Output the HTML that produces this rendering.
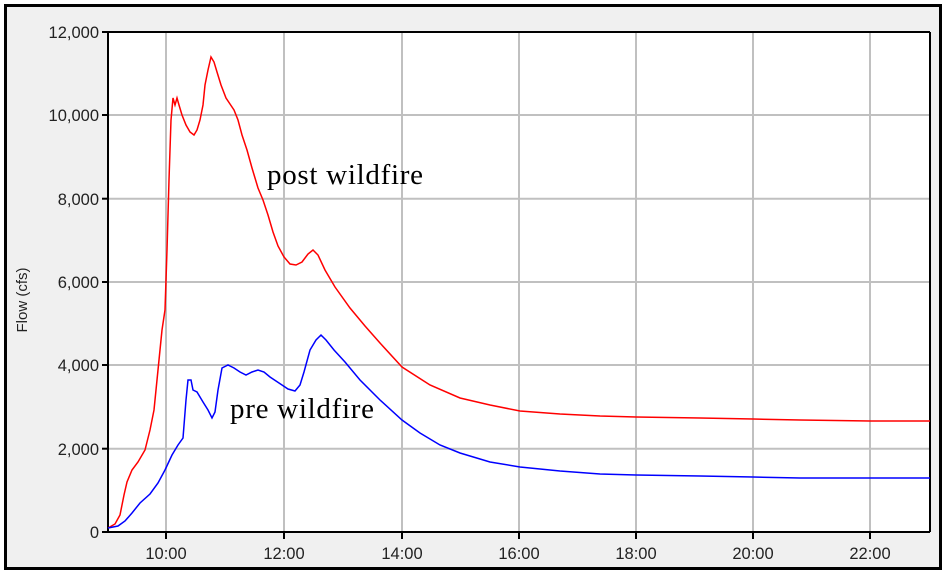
<!DOCTYPE html>
<html><head><style>
body{margin:0;background:#fff;width:945px;height:575px;overflow:hidden;position:relative;font-family:"Liberation Sans",sans-serif}
</style></head><body>
<svg width="945" height="575" xmlns="http://www.w3.org/2000/svg" style="position:absolute;left:0;top:0">
<rect x="5.5" y="5.5" width="935" height="563" fill="#f0f0f0" stroke="#000" stroke-width="3"/>
<rect x="108" y="32" width="822" height="500" fill="#fff"/>
<g stroke="#c0c0c0" stroke-width="2">
<line x1="166" y1="32" x2="166" y2="532"/><line x1="284" y1="32" x2="284" y2="532"/>
<line x1="402" y1="32" x2="402" y2="532"/><line x1="519" y1="32" x2="519" y2="532"/>
<line x1="636" y1="32" x2="636" y2="532"/><line x1="753" y1="32" x2="753" y2="532"/>
<line x1="870" y1="32" x2="870" y2="532"/>
<line x1="108" y1="448.7" x2="930" y2="448.7"/><line x1="108" y1="365" x2="930" y2="365"/>
<line x1="108" y1="282" x2="930" y2="282"/><line x1="108" y1="198.7" x2="930" y2="198.7"/>
<line x1="108" y1="115" x2="930" y2="115"/>
</g>
<g stroke="#000" stroke-width="2" fill="none">
<line x1="108" y1="32" x2="930" y2="32"/>
<line x1="930" y1="32" x2="930" y2="532"/>
<line x1="108" y1="32" x2="108" y2="532"/>
<line x1="102" y1="532" x2="930" y2="532"/>
<line x1="102" y1="32" x2="108" y2="32"/><line x1="102" y1="115" x2="108" y2="115"/>
<line x1="102" y1="198.7" x2="108" y2="198.7"/><line x1="102" y1="282" x2="108" y2="282"/>
<line x1="102" y1="365" x2="108" y2="365"/><line x1="102" y1="448.7" x2="108" y2="448.7"/>
<line x1="166" y1="532" x2="166" y2="539"/><line x1="284" y1="532" x2="284" y2="539"/>
<line x1="402" y1="532" x2="402" y2="539"/><line x1="519" y1="532" x2="519" y2="539"/>
<line x1="636" y1="532" x2="636" y2="539"/><line x1="753" y1="532" x2="753" y2="539"/>
<line x1="870" y1="532" x2="870" y2="539"/>
</g>
<polyline fill="none" stroke="#f00" stroke-width="1.5" points="108,528 115,524 120,515 124,495 127,482 132,470 138,462 145,450 150,430 154,410 158,370 162,330 165,310 167,250 169,180 171,120 173,98 175,105 177,98 179,105 182,115 186,125 190,132 194,135 197,130 200,120 203,105 205,85 208,70 211,57 214,62 217,72 221,85 226,98 230,104 234,110 238,120 242,135 247,150 252,168 258,188 263,200 268,215 273,232 278,246 284,257 290,264 296,265 302,262 308,254 313,250 318,255 325,270 335,287 350,308 365,326 380,343 402,367 430,385 460,398 490,405 520,411 560,414 600,416 636,417 700,418 753,419 800,420 870,421 930,421"/>
<polyline fill="none" stroke="#00f" stroke-width="1.5" points="108,528 118,526 125,521 132,513 140,503 150,494 158,483 165,470 172,455 178,445 183,438 186,400 188,380 191,380 193,390 197,392 203,402 208,410 212,418 215,412 218,390 222,368 228,365 234,368 240,372 246,375 252,372 258,370 264,372 270,377 276,381 282,385 288,389 295,391 300,385 304,372 310,350 316,340 321,335 326,340 334,350 345,362 360,380 380,400 402,420 420,433 440,445 460,453 490,462 520,467 560,471 600,474 636,475 700,476 753,477 800,478 870,478 930,478"/>
<g font-size="16.5" fill="#222" text-anchor="end">
<text x="99" y="38">12,000</text><text x="99" y="121">10,000</text>
<text x="99" y="205">8,000</text><text x="99" y="288">6,000</text>
<text x="99" y="371">4,000</text><text x="99" y="455">2,000</text>
<text x="99" y="538">0</text>
</g>
<g font-size="16.5" fill="#222" text-anchor="middle">
<text x="166" y="559">10:00</text><text x="284" y="559">12:00</text>
<text x="402" y="559">14:00</text><text x="519" y="559">16:00</text>
<text x="636" y="559">18:00</text><text x="753" y="559">20:00</text>
<text x="870" y="559">22:00</text>
</g>
<text transform="translate(27,300) rotate(-90)" font-size="15" text-anchor="middle" fill="#222">Flow (cfs)</text>
<g font-family="Liberation Serif,serif" font-size="29" fill="#000">
<text x="267" y="184" textLength="156">post wildfire</text>
<text x="230" y="418" textLength="144">pre wildfire</text>
</g>
</svg>
</body></html>
